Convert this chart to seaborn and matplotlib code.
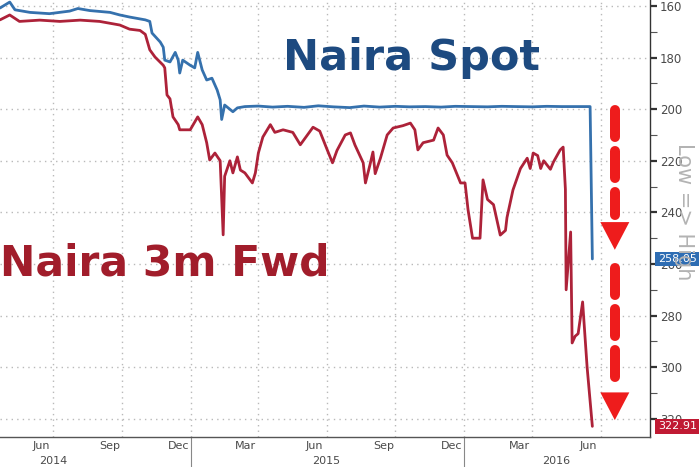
import matplotlib
matplotlib.use("Agg")
import matplotlib.pyplot as plt
import matplotlib.dates as mdates
import matplotlib.transforms as mtrans
from matplotlib.ticker import MultipleLocator
import pandas as pd
import seaborn as sns

# ---------------- data ----------------
spot_dates = [
    "2014-04-21", "2014-05-04", "2014-05-11", "2014-05-31", "2014-06-26", "2014-07-23",
    "2014-08-03", "2014-08-19", "2014-09-15", "2014-09-28", "2014-10-11", "2014-11-01",
    "2014-11-07", "2014-11-10", "2014-11-21", "2014-11-25", "2014-11-27", "2014-12-04",
    "2014-12-11", "2014-12-15", "2014-12-17", "2014-12-21", "2014-12-31", "2015-01-06",
    "2015-01-10", "2015-01-16", "2015-01-22", "2015-01-29", "2015-02-05", "2015-02-09",
    "2015-02-11", "2015-02-15", "2015-02-26", "2015-03-04", "2015-03-14", "2015-04-01",
    "2015-04-20", "2015-05-10", "2015-06-01", "2015-06-20", "2015-07-10", "2015-08-01",
    "2015-08-20", "2015-09-10", "2015-10-01", "2015-10-20", "2015-11-10", "2015-12-01",
    "2015-12-20", "2016-01-10", "2016-02-01", "2016-02-20", "2016-03-10", "2016-04-01",
    "2016-04-20", "2016-05-10", "2016-06-01", "2016-06-17", "2016-06-20",
]
spot_values = [
    160.8, 158.5, 161.5, 162.5, 163.0, 162.0,
    161.0, 161.8, 162.5, 163.5, 164.3, 165.4,
    166.0, 170.5, 174.0, 176.0, 181.0, 181.7,
    178.0, 181.0, 186.0, 181.0, 183.0, 184.0,
    178.0, 184.8, 188.7, 188.0, 192.6, 196.4,
    204.0, 198.4, 201.0, 199.5, 199.0, 198.8,
    199.2, 198.9, 199.3, 198.7, 199.1, 199.4,
    198.8, 199.2, 198.9, 199.1, 199.0, 199.2,
    198.9, 199.0, 199.1, 198.9, 199.0, 199.1,
    198.9, 199.0, 199.0, 199.0, 258.05,
]

fwd_dates = [
    "2014-04-21", "2014-05-04", "2014-05-17", "2014-06-13", "2014-07-10", "2014-08-06",
    "2014-09-01", "2014-09-28", "2014-10-11", "2014-10-25", "2014-11-01", "2014-11-07",
    "2014-11-14", "2014-11-25", "2014-11-27", "2014-11-30", "2014-12-04", "2014-12-08",
    "2014-12-15", "2014-12-17", "2014-12-31", "2015-01-06", "2015-01-10", "2015-01-16",
    "2015-01-22", "2015-01-26", "2015-02-02", "2015-02-09", "2015-02-13", "2015-02-15",
    "2015-02-22", "2015-02-26", "2015-03-04", "2015-03-08", "2015-03-14", "2015-03-24",
    "2015-03-28", "2015-04-01", "2015-04-07", "2015-04-17", "2015-04-23", "2015-05-04",
    "2015-05-17", "2015-05-27", "2015-06-13", "2015-06-22", "2015-07-02", "2015-07-09",
    "2015-07-15", "2015-07-26", "2015-08-02", "2015-08-08", "2015-08-19", "2015-08-22",
    "2015-08-28", "2015-09-01", "2015-09-04", "2015-09-11", "2015-09-20", "2015-09-28",
    "2015-10-11", "2015-10-21", "2015-10-27", "2015-10-31", "2015-11-07", "2015-11-21",
    "2015-11-27", "2015-12-04", "2015-12-09", "2015-12-16", "2015-12-27", "2016-01-02",
    "2016-01-06", "2016-01-12", "2016-01-22", "2016-01-26", "2016-02-01", "2016-02-09",
    "2016-02-18", "2016-02-25", "2016-02-27", "2016-03-06", "2016-03-16", "2016-03-25",
    "2016-03-29", "2016-04-02", "2016-04-08", "2016-04-12", "2016-04-16", "2016-04-25",
    "2016-04-29", "2016-05-08", "2016-05-12", "2016-05-15", "2016-05-16", "2016-05-22",
    "2016-05-24", "2016-05-28", "2016-06-01", "2016-06-07", "2016-06-13", "2016-06-20",
]
fwd_values = [
    165.4, 163.5, 166.0, 165.5, 166.0, 165.5,
    166.0, 167.4, 169.0, 169.5, 171.0, 177.0,
    179.8, 183.0, 184.0, 194.5, 196.0, 203.0,
    206.0, 208.0, 208.0, 205.0, 203.0, 206.0,
    213.0, 219.7, 217.0, 220.0, 248.7, 226.0,
    220.0, 224.7, 218.5, 223.6, 224.7, 228.6,
    224.7, 217.0, 210.8, 206.0, 209.0, 208.0,
    209.0, 213.8, 207.0, 208.5, 215.8, 220.8,
    216.0, 210.0, 209.2, 213.9, 220.8, 228.6,
    221.6, 216.6, 225.0, 219.0, 210.0, 207.3,
    206.4, 205.4, 208.0, 215.8, 213.0, 212.0,
    207.3, 210.0, 217.8, 220.8, 228.6, 228.6,
    239.0, 250.0, 250.0, 227.4, 235.0, 237.0,
    248.8, 247.0, 242.0, 231.3, 223.0, 219.0,
    223.0, 217.0, 218.0, 223.0, 220.0, 223.3,
    220.5, 215.8, 214.7, 231.0, 270.0, 247.6,
    290.6, 288.0, 287.0, 274.7, 300.0, 322.91,
]

y_major = [160, 180, 200, 220, 240, 260, 280, 300, 320]
year_labels = ["2014", "2015", "2016"]
year_label_dates = ["2014-07-01", "2015-06-30", "2016-05-03"]
year_breaks = ["2015-01-01", "2016-01-01"]

# arrows (annotation positions: date, start value, head base value, tip value)
arrow_specs = [
    ("2016-07-20", 198.4, 243.5, 254.5),
    ("2016-07-20", 259.5, 308.5, 320.5),
]

# ---------------- colours ----------------
SPOT_LINE = "#3571ad"
FWD_LINE = "#ad2239"
SPOT_TEXT = "#1d4a80"
FWD_TEXT = "#a11d2b"
ARROW_RED = "#ee1c1c"
GRID = "#b9b9b9"
TICK_TXT = "#4a4a4a"

sns.set_style("white")
plt.rcParams["font.family"] = ["DejaVu Sans"]

spot = pd.DataFrame({"date": pd.to_datetime(spot_dates), "value": spot_values})
fwd = pd.DataFrame({"date": pd.to_datetime(fwd_dates), "value": fwd_values})

fig = plt.figure(figsize=(7.0, 4.67), dpi=100)
ax = fig.add_axes([0.0, 0.0642, 0.9286, 0.9358])

sns.lineplot(data=fwd, x="date", y="value", ax=ax, color=FWD_LINE, lw=2.0,
             estimator=None, sort=False, zorder=3)
sns.lineplot(data=spot, x="date", y="value", ax=ax, color=SPOT_LINE, lw=2.0,
             estimator=None, sort=False, zorder=4)

ax.set_xlim(pd.Timestamp("2014-04-21"), pd.Timestamp("2016-09-05"))
ax.set_ylim(327.05, 157.7)
ax.set_xlabel("")
ax.set_ylabel("")

# spines
for s in ("left", "top"):
    ax.spines[s].set_visible(False)
ax.spines["right"].set_color("#333333")
ax.spines["bottom"].set_color("#555555")
ax.spines["right"].set_linewidth(1.0)
ax.spines["bottom"].set_linewidth(1.0)

# y axis on the right
ax.yaxis.tick_right()
ax.set_yticks(y_major)
ax.set_yticklabels([str(v) for v in y_major])
ax.yaxis.set_minor_locator(MultipleLocator(10))
ax.tick_params(axis="y", which="major", direction="out", length=5, width=1.6,
               color="#333333", labelsize=8.5, labelcolor=TICK_TXT, pad=2,
               right=True, left=False)
ax.tick_params(axis="y", which="minor", direction="out", length=5, width=0.8,
               color="#555555", right=True, left=False)

# x axis: quarter gridlines, monthly ticks, mid-month labels
ax.xaxis.set_major_locator(mdates.MonthLocator(bymonth=[1, 4, 7, 10]))
ax.xaxis.set_minor_locator(mdates.MonthLocator())
ax.xaxis.set_major_formatter(plt.NullFormatter())
ax.tick_params(axis="x", which="major", direction="inout", length=6, width=1.0,
               color="#555555")
ax.tick_params(axis="x", which="minor", direction="out", length=3, width=0.8,
               color="#555555")

sec = ax.secondary_xaxis("bottom")
sec.xaxis.set_major_locator(mdates.MonthLocator(bymonth=[3, 6, 9, 12], bymonthday=15))
sec.xaxis.set_major_formatter(mdates.DateFormatter("%b"))
sec.tick_params(axis="x", length=0, pad=3, labelsize=8, labelcolor=TICK_TXT)
sec.spines["bottom"].set_visible(False)

ax.grid(True, which="major", axis="both", linestyle=(0, (1, 3)), color=GRID, lw=1.0)
ax.set_axisbelow(True)

# year labels and dividers
trans = mtrans.blended_transform_factory(ax.transData, ax.transAxes)
for lbl, d in zip(year_labels, year_label_dates):
    ax.text(pd.Timestamp(d), -0.054, lbl, transform=trans, ha="center", va="center",
            fontsize=8, color=TICK_TXT)
for d in year_breaks:
    ax.axvline(pd.Timestamp(d), ymin=-0.075, ymax=0, color="#888888", lw=0.8,
               clip_on=False)

# last-value boxes
ytrans = mtrans.blended_transform_factory(ax.transAxes, ax.transData)
ax.text(1.012, spot_values[-1], f"{spot_values[-1]:.2f}", transform=ytrans,
        ha="left", va="center", fontsize=8, color="white", zorder=6,
        bbox=dict(boxstyle="square,pad=0.22", fc="#2e6db3", ec="none"), clip_on=False)
ax.text(1.012, fwd_values[-1], f"{fwd_values[-1]:.2f}", transform=ytrans,
        ha="left", va="center", fontsize=8, color="white", zorder=6,
        bbox=dict(boxstyle="square,pad=0.22", fc="#c01a33", ec="none"), clip_on=False)

# Low => High
fig.text(684 / 700, 1 - 212 / 467, "Low => High", rotation=270, ha="center",
         va="center", fontsize=15, color="#b3b3b3")

# series titles
fig.text(283 / 700, 1 - 70 / 467, "Naira Spot", fontsize=31, fontweight="bold",
         color=SPOT_TEXT, ha="left", va="baseline")
fig.text(0.5 / 700, 1 - 275 / 467, "Naira 3m Fwd", fontsize=30.5, fontweight="bold",
         color=FWD_TEXT, ha="left", va="baseline")

# dashed red arrows
for d, y0, yb, yt in arrow_specs:
    x = pd.Timestamp(d)
    ax.plot([x, x], [y0 + 2.0, yb - 2.5], color=ARROW_RED, lw=7.2,
            dashes=(2.7, 1.4), dash_capstyle="round", solid_capstyle="round",
            clip_on=False, zorder=5)
    ax.annotate("", xy=(x, yt), xytext=(x, yb),
                arrowprops=dict(arrowstyle="-|>,head_length=1.05,head_width=0.55",
                                mutation_scale=19, color=ARROW_RED, lw=0,
                                shrinkA=0, shrinkB=0),
                zorder=5, annotation_clip=False)

fig.savefig("out.png", dpi=100)
